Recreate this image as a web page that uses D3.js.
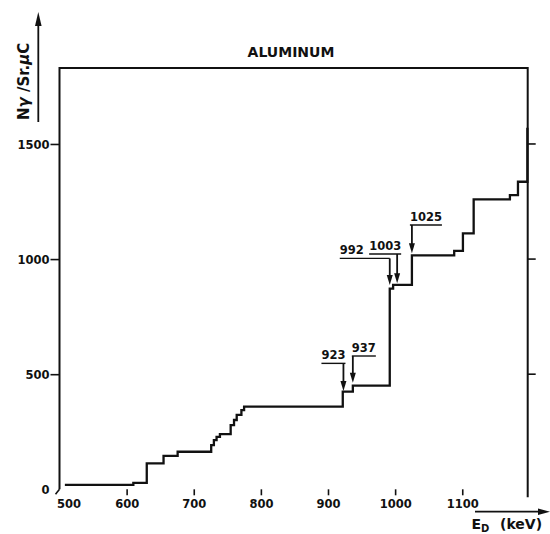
<!DOCTYPE html>
<html>
<head>
<meta charset="utf-8">
<script src="https://cdn.jsdelivr.net/npm/d3@7"></script>
<style>
  body { margin: 0; background: #fff; }
  svg text { font-family: 'DejaVu Sans', sans-serif; font-weight: bold; fill: #111; }
</style>
</head>
<body>
<div id="chart"></div>
<script>
// step curve: proton energy (keV) where each step starts, and the yield after it
var stepEnergy = [508, 610, 630, 655, 676, 726, 730, 734, 739, 755, 760, 764, 771, 775,
  922, 937, 992, 997, 1025, 1088, 1101, 1117, 1171, 1183, 1197];
var stepYield = [19, 28, 113, 145, 163, 192, 214, 228, 240, 279, 301, 323, 344, 359,
  424, 450, 872, 888, 1016, 1036, 1112, 1259, 1278, 1336, 1570];

// resonances marked with arrows
var resEnergy = [923, 937, 992, 1003, 1025];
var resLabels = ['923', '937', '992', '1003', '1025'];
var resLeader = [547, 579, 1003, 1022, 1148];   // level of the underline
var resTip = [427, 463, 887, 895, 1025];        // where the arrow ends

var xTicks = [500, 600, 700, 800, 900, 1000, 1100];
var yTicks = [0, 500, 1000, 1500];

var svgWidth = 550;
var svgHeight = 534;

var svg = d3.select('#chart')
  .append('svg')
  .attr('width', svgWidth)
  .attr('height', svgHeight);

var x = d3.scaleLinear().domain([500, 1197.5]).range([59.5, 527.7]);
var y = d3.scaleLinear().domain([0, 1830]).range([489.3, 68]);

// frame
svg.append('path')
  .attr('d', `M${x(500)},${y(0)} V${y(1830)} H${x(1197.5)} V${y(0) + 8}`)
  .attr('fill', 'none')
  .attr('stroke', '#111')
  .attr('stroke-width', 2);

// little stroke at the corner
svg.append('line')
  .attr('x1', x(500)).attr('y1', y(0))
  .attr('x2', x(500) - 4).attr('y2', y(0) + 5)
  .attr('stroke', '#111').attr('stroke-width', 1.6);

// right side ticks
svg.selectAll('.rtick')
  .data(yTicks.filter(d => d > 0))
  .enter()
  .append('line')
  .attr('x1', x(1197.5)).attr('x2', x(1197.5) + 8)
  .attr('y1', d => y(d)).attr('y2', d => y(d))
  .attr('stroke', '#111').attr('stroke-width', 1.6);

var leftAxis = d3.axisLeft(y).tickValues(yTicks).tickFormat(d3.format('d'))
  .tickSize(9).tickPadding(1);
var bottomAxis = d3.axisBottom(x).tickValues(xTicks).tickFormat(d3.format('d'))
  .tickSize(6).tickPadding(5);

var gy = svg.append('g')
  .attr('transform', `translate(${x(500)},0)`)
  .call(leftAxis);
gy.select('.domain').remove();
gy.selectAll('line').attr('stroke', '#111').attr('stroke-width', 1.6);
gy.selectAll('text').style('font-size', '11.5px').attr('dy', '0.36em');
gy.selectAll('.tick').filter(d => d === 0).select('line').remove();

var gx = svg.append('g')
  .attr('transform', `translate(0,${y(0)})`)
  .call(bottomAxis);
gx.select('.domain').remove();
gx.selectAll('line').attr('stroke', '#111').attr('stroke-width', 1.6);
gx.selectAll('text').style('font-size', '11.5px');
gx.selectAll('.tick').filter(d => d === 500).select('line').remove();
gx.selectAll('.tick').filter(d => d === 500).select('text').attr('x', 9);

// the step curve
var line = d3.line()
  .x(d => x(d[0]))
  .y(d => y(d[1]))
  .curve(d3.curveStepAfter);

svg.append('path')
  .datum(stepEnergy.map((e, i) => [e, stepYield[i]]))
  .attr('d', line)
  .attr('fill', 'none')
  .attr('stroke', '#111')
  .attr('stroke-width', 2.3)
  .attr('stroke-linejoin', 'miter');

// resonance arrows
var labelDx = [-22, -1, -50, -28, -2];
resEnergy.forEach(function(e, i) {
  var ax = x(e);
  var ly = y(resLeader[i]);
  var ty = y(resTip[i]);
  var t = svg.append('text')
    .attr('x', ax + labelDx[i])
    .attr('y', ly - 4)
    .style('font-size', '11.5px')
    .text(resLabels[i]);
  var w = t.node().getComputedTextLength();
  var x0 = Math.min(ax + labelDx[i], ax);
  var x1 = Math.max(ax + labelDx[i] + w, ax);
  svg.append('line')
    .attr('x1', x0).attr('x2', x1)
    .attr('y1', ly).attr('y2', ly)
    .attr('stroke', '#111').attr('stroke-width', 1.4);
  svg.append('line')
    .attr('x1', ax).attr('x2', ax)
    .attr('y1', ly).attr('y2', ty - 8)
    .attr('stroke', '#111').attr('stroke-width', 1.8);
  svg.append('path')
    .attr('d', `M${ax - 3},${ty - 10} L${ax + 3},${ty - 10} L${ax},${ty} Z`)
    .attr('fill', '#111');
});

// title
svg.append('text')
  .attr('x', 291)
  .attr('y', 57)
  .attr('text-anchor', 'middle')
  .style('font-size', '14px')
  .text('ALUMINUM');

// y axis label with arrow
var yl = svg.append('text')
  .attr('transform', 'translate(29,120) rotate(-90)')
  .style('font-size', '15px');
yl.append('tspan').text('N');
yl.append('tspan').style('font-style', 'italic').text('γ');
yl.append('tspan').text(' /Sr.');
yl.append('tspan').style('font-style', 'italic').text('μ');
yl.append('tspan').text('C');

svg.append('line')
  .attr('x1', 38.3).attr('x2', 38.3)
  .attr('y1', 122).attr('y2', 24)
  .attr('stroke', '#111').attr('stroke-width', 1.8);
svg.append('path')
  .attr('d', 'M35,26 L41.6,26 L38.3,12 Z')
  .attr('fill', '#111');

// x axis label with arrow
svg.append('line')
  .attr('x1', 475).attr('x2', 540)
  .attr('y1', 511.7).attr('y2', 511.7)
  .attr('stroke', '#111').attr('stroke-width', 1.8);
svg.append('path')
  .attr('d', 'M538,508.4 L538,515 L550,511.7 Z')
  .attr('fill', '#111');

var xl = svg.append('text')
  .attr('x', 471.5)
  .attr('y', 529)
  .style('font-size', '14px');
xl.append('tspan').text('E');
xl.append('tspan').attr('dy', 3).style('font-size', '10px').text('D');
svg.append('text')
  .attr('x', 500)
  .attr('y', 529)
  .style('font-size', '14px')
  .text('(keV)');
</script>
</body>
</html>
